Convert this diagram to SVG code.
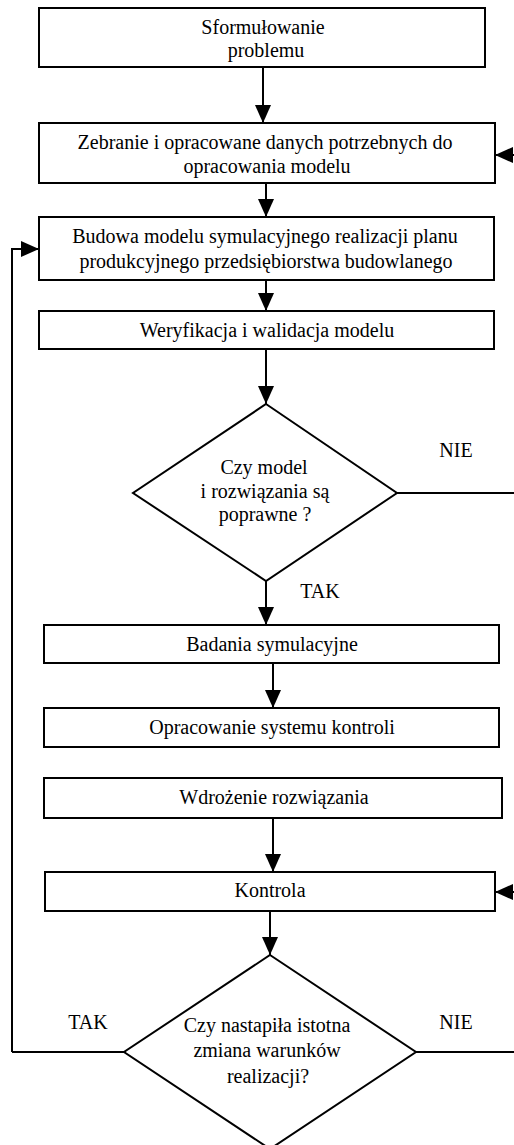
<svg xmlns="http://www.w3.org/2000/svg" width="514" height="1145" viewBox="0 0 514 1145">
<style>
.box{fill:#fff;stroke:#000;stroke-width:2}
.ln{fill:none;stroke:#000;stroke-width:2}
.arr{marker-end:url(#ah)}
text{font-family:"Liberation Serif","Times New Roman",serif;font-size:20px;fill:#000;text-anchor:middle}
</style>
<defs>
<marker id="ah" markerUnits="userSpaceOnUse" markerWidth="18" markerHeight="16" refX="18" refY="8" orient="auto" viewBox="0 0 18 16">
<path d="M0,0 L18,8 L0,16 z" fill="#000"/>
</marker>
</defs>
<rect width="514" height="1145" fill="#fff"/>
<g id="connectors">
<line class="ln arr" x1="263" y1="67" x2="263" y2="123"/>
<line class="ln arr" x1="514" y1="155" x2="495" y2="155"/>
<line class="ln arr" x1="266" y1="183" x2="266" y2="217"/>
<polyline class="ln arr" points="12,1052 12,249 39,249"/>
<line class="ln arr" x1="266" y1="280" x2="266" y2="311"/>
<line class="ln arr" x1="266" y1="349" x2="266" y2="404"/>
<line class="ln" x1="397" y1="493" x2="514" y2="493"/>
<line class="ln arr" x1="266" y1="581" x2="266" y2="625"/>
<line class="ln arr" x1="273" y1="663" x2="273" y2="708"/>
<line class="ln arr" x1="273" y1="818" x2="273" y2="872"/>
<line class="ln arr" x1="514" y1="892" x2="495" y2="892"/>
<line class="ln arr" x1="270" y1="911" x2="270" y2="955"/>
<line class="ln" x1="124" y1="1052" x2="12" y2="1052"/>
<line class="ln" x1="416" y1="1052" x2="514" y2="1052"/>
<text x="456" y="457">NIE</text>
<text x="320" y="598">TAK</text>
<text x="88" y="1029">TAK</text>
<text x="456" y="1029">NIE</text>
</g>
<g id="n1">
<rect class="box" x="39" y="8" width="446" height="59"/>
<text x="263" y="34">Sformułowanie</text>
<text x="266" y="57">problemu</text>
</g>
<g id="n2">
<rect class="box" x="39" y="123" width="456" height="60"/>
<text x="265" y="149">Zebranie i opracowane danych potrzebnych do</text>
<text x="267" y="173">opracowania modelu</text>
</g>
<g id="n3">
<rect class="box" x="39" y="217" width="455" height="63"/>
<text x="265" y="243">Budowa modelu symulacyjnego realizacji planu</text>
<text x="266" y="268">produkcyjnego przedsiębiorstwa budowlanego</text>
</g>
<g id="n4">
<rect class="box" x="39" y="311" width="455" height="38"/>
<text x="267" y="337">Weryfikacja i walidacja modelu</text>
</g>
<g id="d1">
<polygon class="box" points="266,404 397,493 266,581 133,493"/>
<text x="264" y="474">Czy model</text>
<text x="265" y="498">i rozwiązania są</text>
<text x="265" y="521">poprawne ?</text>
</g>
<g id="n5">
<rect class="box" x="44" y="625" width="455" height="38"/>
<text x="272" y="651">Badania symulacyjne</text>
</g>
<g id="n6">
<rect class="box" x="44" y="708" width="455" height="39"/>
<text x="272" y="734">Opracowanie systemu kontroli</text>
</g>
<g id="n7">
<rect class="box" x="44" y="778" width="458" height="40"/>
<text x="274" y="804">Wdrożenie rozwiązania</text>
</g>
<g id="n8">
<rect class="box" x="45" y="872" width="450" height="39"/>
<text x="270" y="897">Kontrola</text>
</g>
<g id="d2">
<polygon class="box" points="270,955 416,1052 270,1149 124,1052"/>
<text x="267" y="1032">Czy nastapiła istotna</text>
<text x="267" y="1057">zmiana warunków</text>
<text x="268" y="1083">realizacji?</text>
</g>
</svg>
